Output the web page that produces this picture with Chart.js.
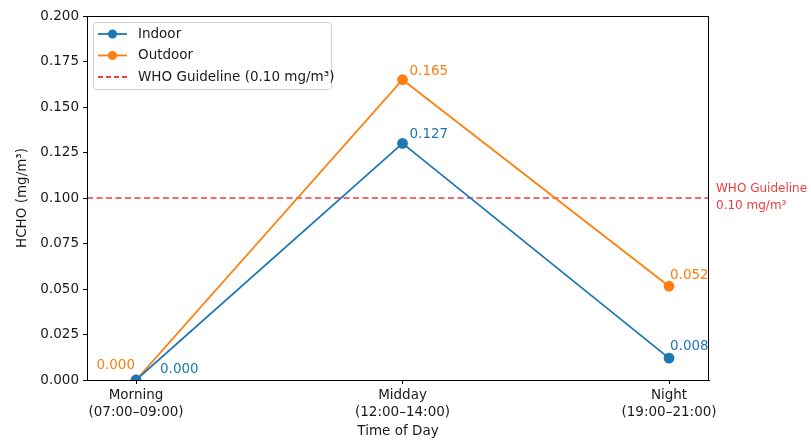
<!DOCTYPE html>
<html><head><meta charset="utf-8">
<script src="https://cdn.jsdelivr.net/npm/chart.js@4"></script>
<style>html,body{margin:0;padding:0;background:#fff}#wrap{width:811px;height:442px}</style>
</head><body><div id="wrap"><canvas id="c" width="811" height="442"></canvas></div>
<script>
const categories = ['Morning\n(07:00–09:00)', 'Midday\n(12:00–14:00)', 'Night\n(19:00–21:00)'];
const indoorValues = [0.000, 0.130, 0.012];
const outdoorValues = [0.000, 0.165, 0.0515];
const indoorLabels = ['0.000', '0.127', '0.008'];
const outdoorLabels = ['0.000', '0.165', '0.052'];
const guidelineValue = 0.10;
const yTicks = [0, 0.025, 0.05, 0.075, 0.1, 0.125, 0.15, 0.175, 0.2];

const FONT = 'DejaVu Sans';
const BLUE = '#1f77b4', ORANGE = '#ff7f0e', RED = '#f03c3c';
const FS = 13.5;

const toPts = vals => vals.map((v, i) => ({x: i, y: v}));

const labelStyle = {
  Indoor: [{dx: 24, dy: -11, align: 'left'}, {dx: 7, dy: -9, align: 'left'}, {dx: 1, dy: -12, align: 'left'}],
  Outdoor: [{dx: -1, dy: -15, align: 'right'}, {dx: 7, dy: -8, align: 'left'}, {dx: 1, dy: -11, align: 'left'}]
};
const textLabels = {Indoor: indoorLabels, Outdoor: outdoorLabels};

const extras = {
  id: 'extras',
  beforeDatasetsDraw(chart) {
    const {ctx, chartArea: a, scales: {y}} = chart;
    const py = y.getPixelForValue(guidelineValue);
    ctx.save();
    ctx.strokeStyle = RED; ctx.lineWidth = 1.6; ctx.setLineDash([6, 3.5]);
    ctx.beginPath(); ctx.moveTo(a.left, py); ctx.lineTo(a.right, py); ctx.stroke();
    ctx.restore();
  },
  afterDatasetsDraw(chart) {
    const {ctx, chartArea: a, scales: {y}} = chart;
    ctx.save();
    ctx.strokeStyle = '#000'; ctx.lineWidth = 1;
    ctx.strokeRect(a.left + 0.5, a.top + 0.5, a.right - a.left - 1, a.bottom - a.top);
    ctx.font = FS + 'px "' + FONT + '"'; ctx.textBaseline = 'middle';
    chart.data.datasets.forEach((ds, di) => {
      const meta = chart.getDatasetMeta(di);
      const st = labelStyle[ds.label]; const txt = textLabels[ds.label];
      if (!st) return;
      meta.data.forEach((pt, i) => {
        ctx.fillStyle = ds.borderColor; ctx.textAlign = st[i].align;
        ctx.fillText(txt[i], pt.x + st[i].dx, pt.y + st[i].dy);
      });
    });
    const py = y.getPixelForValue(guidelineValue);
    ctx.fillStyle = RED; ctx.font = '12px "' + FONT + '"'; ctx.textAlign = 'left';
    ctx.fillText('WHO Guideline', a.right + 7, py - 9);
    ctx.fillText('0.10 mg/m³', a.right + 7, py + 8);
    const lx = 93, ly = 22, lw = 238, lh = 67;
    ctx.fillStyle = 'rgba(255,255,255,0.85)'; ctx.strokeStyle = '#d0d0d0'; ctx.lineWidth = 1;
    ctx.beginPath(); ctx.roundRect(lx + 0.5, ly + 0.5, lw, lh, 3); ctx.fill(); ctx.stroke();
    const items = [
      {label: 'Indoor', color: BLUE, marker: true},
      {label: 'Outdoor', color: ORANGE, marker: true},
      {label: 'WHO Guideline (0.10 mg/m³)', color: RED, dash: true}
    ];
    ctx.font = FS + 'px "' + FONT + '"'; ctx.textAlign = 'left'; ctx.textBaseline = 'middle';
    items.forEach((it, i) => {
      const cy = ly + 12 + i * 21.5;
      ctx.strokeStyle = it.color; ctx.lineWidth = 1.8;
      ctx.setLineDash(it.dash ? [5, 3] : []);
      ctx.beginPath(); ctx.moveTo(98, cy); ctx.lineTo(127, cy); ctx.stroke();
      ctx.setLineDash([]);
      if (it.marker) { ctx.fillStyle = it.color; ctx.beginPath(); ctx.arc(112.5, cy, 4.5, 0, Math.PI * 2); ctx.fill(); }
      ctx.fillStyle = '#1a1a1a'; ctx.fillText(it.label, 138, cy);
    });
    ctx.restore();
  }
};

new Chart(document.getElementById('c'), {
  type: 'line',
  data: {
    datasets: [
      {label: 'Indoor', data: toPts(indoorValues), borderColor: BLUE, backgroundColor: BLUE, borderWidth: 1.8, pointRadius: 4.5, pointHoverRadius: 4.5, tension: 0},
      {label: 'Outdoor', data: toPts(outdoorValues), borderColor: ORANGE, backgroundColor: ORANGE, borderWidth: 1.8, pointRadius: 4.5, pointHoverRadius: 4.5, tension: 0}
    ]
  },
  options: {
    responsive: false, animation: false,
    layout: {padding: {left: 14, right: 102, top: 16, bottom: 0}},
    plugins: {legend: {display: false}, tooltip: {enabled: false}},
    scales: {
      x: {
        type: 'linear', min: -0.184, max: 2.15,
        afterBuildTicks: s => { s.ticks = categories.map((c, i) => ({value: i})); },
        afterFit: s => { s.height = 62; },
        ticks: {
          autoSkip: false, maxRotation: 0, color: '#1a1a1a', padding: 3,
          font: {family: FONT, size: FS, lineHeight: 1.25},
          callback: (v) => categories[v] !== undefined ? categories[v].split('\n') : ''
        },
        grid: {drawOnChartArea: false, tickLength: 4, color: '#000'},
        border: {color: '#000', width: 1},
        title: {display: true, text: 'Time of Day', color: '#1a1a1a', font: {family: FONT, size: FS}, padding: {top: 0, bottom: 2}}
      },
      y: {
        min: 0, max: 0.2,
        afterBuildTicks: s => { s.ticks = yTicks.map(v => ({value: v})); },
        afterFit: s => { s.width = 73; },
        ticks: {color: '#1a1a1a', padding: 4, font: {family: FONT, size: FS}, callback: v => v.toFixed(3)},
        grid: {drawOnChartArea: false, tickLength: 4, color: '#000'},
        border: {color: '#000', width: 1},
        title: {display: true, text: 'HCHO (mg/m³)', color: '#1a1a1a', font: {family: FONT, size: FS}, padding: {top: 0, bottom: 4}}
      }
    }
  },
  plugins: [extras]
});
</script></body></html>
